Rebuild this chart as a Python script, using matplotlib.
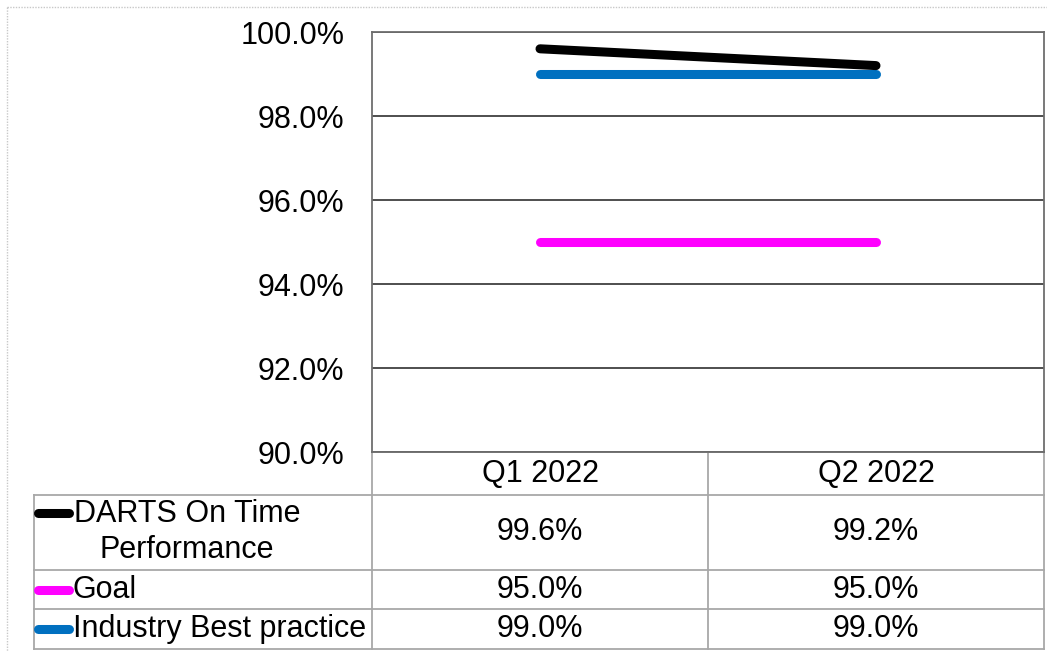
import numpy as np
import matplotlib.pyplot as plt
from matplotlib.lines import Line2D
from matplotlib.patches import Rectangle

plt.rcParams['font.family'] = ['Liberation Sans', 'DejaVu Sans']

# data
quarters = ["Q1 2022", "Q2 2022"]
series_names = ["DARTS On Time\nPerformance", "Goal", "Industry Best practice"]
darts = [99.6, 99.2]
goal = [95.0, 95.0]
industry = [99.0, 99.0]
series_values = [darts, goal, industry]
series_colors = ["#000000", "#ff00ff", "#0070c0"]
yticks = [90, 92, 94, 96, 98, 100]

W, H = 1047, 652
fig = plt.figure(figsize=(W / 100, H / 100), dpi=100)
fs = 22

# pixel layout
left, right, top, bottom = 372, 1044, 32, 452
ax = fig.add_axes([left / W, 1 - bottom / H, (right - left) / W, (bottom - top) / H])

x = np.arange(len(quarters))
# black drawn last so it sits on top of the blue
for vals, col in [(goal, series_colors[1]), (industry, series_colors[2]), (darts, series_colors[0])]:
    ax.plot(x, vals, color=col, lw=6.5, solid_capstyle='round')

ax.set_xlim(-0.5, len(quarters) - 0.5)
ax.set_ylim(90, 100)
ax.set_yticks(yticks)
ax.set_yticklabels([f"{t:.1f}%" for t in yticks], fontsize=fs)
ax.tick_params(axis='y', length=0, pad=20)
ax.set_xticks([])
ax.grid(axis='y', color='#404040', lw=1.3)
for s in ax.spines.values():
    s.set_color('#6e6e6e')
    s.set_linewidth(1.3)

# overlay axes in pixel coords for the data table
ov = fig.add_axes([0, 0, 1, 1], zorder=-1)
ov.set_xlim(0, W)
ov.set_ylim(H, 0)
ov.axis('off')

# outer dotted frame
ov.add_patch(Rectangle((7, 7), W, H, fill=False, ec='#c8c8c8', lw=1, ls=(0, (1, 1))))

tcol = '#a8a8a8'
tab_left = 34
col_edges = [left, (left + right) / 2, right]
row_edges = [bottom, 495, 570, 609, 649]
ov.plot([left, right], [row_edges[0]] * 2, color=tcol, lw=1.3)
for yy in row_edges[1:]:
    ov.plot([tab_left, right], [yy, yy], color=tcol, lw=1.3)
ov.plot([tab_left, tab_left], [row_edges[1], row_edges[-1]], color=tcol, lw=1.3)
for xx in col_edges:
    ov.plot([xx, xx], [row_edges[0], row_edges[-1]], color=tcol, lw=1.3)

col_centers = [(col_edges[i] + col_edges[i + 1]) / 2 for i in range(len(quarters))]
for cx, q in zip(col_centers, quarters):
    ov.text(cx, (row_edges[0] + row_edges[1]) / 2, q, ha='center', va='center', fontsize=fs)

row_centers = [532, 590, 629]
key_y = [513, 590, 629]
for i, (name, vals, col) in enumerate(zip(series_names, series_values, series_colors)):
    ov.add_line(Line2D([38, 69], [key_y[i]] * 2, color=col, lw=6.5, solid_capstyle='round'))
    if '\n' in name:
        ov.text(187, row_centers[i], name, ha='center', va='center', fontsize=fs,
                multialignment='center', linespacing=1.25)
    else:
        ov.text(73, row_centers[i], name, ha='left', va='center', fontsize=fs)
    for cx, v in zip(col_centers, vals):
        ov.text(cx, row_centers[i], f"{v:.1f}%", ha='center', va='center', fontsize=fs)

fig.savefig("out.png", dpi=100)
